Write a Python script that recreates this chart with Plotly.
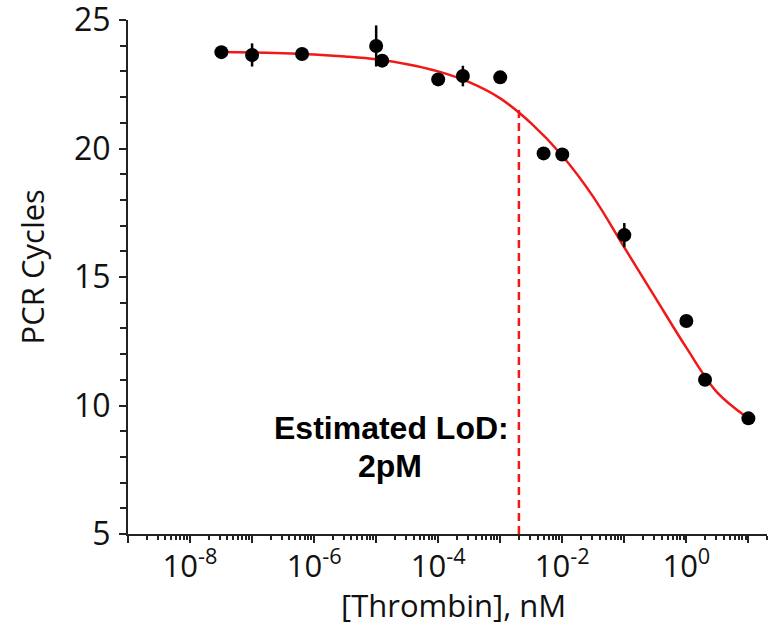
import plotly.graph_objects as go

# Thrombin concentration series (nM) and measured PCR cycles
conc_nM = [3.2e-8, 1e-7, 6.4e-7, 1e-5, 1.25e-5, 1e-4, 2.5e-4, 1e-3,
           5e-3, 1e-2, 1e-1, 1.0, 2.0, 10.0]
pcr_cycles = [23.75, 23.64, 23.68, 23.99, 23.42, 22.69, 22.82, 22.77,
              19.81, 19.77, 16.63, 13.29, 11.0, 9.5]
pcr_err = [0.0, 0.45, 0.0, 0.8, 0.0, 0.2, 0.4, 0.0,
           0.0, 0.0, 0.47, 0.15, 0.0, 0.0]

# Sigmoidal fit, sampled along the concentration range
fit_conc = [3.16e-8, 1e-7, 3.16e-7, 1e-6, 3.16e-6, 1e-5, 3.16e-5, 1e-4,
            3.16e-4, 1e-3, 3.16e-3, 1e-2, 3.16e-2, 1e-1, 3.16e-1, 1.0,
            3.16, 10.0]
fit_cycles = [23.76, 23.74, 23.71, 23.66, 23.58, 23.47, 23.28, 23.00,
              22.58, 21.95, 20.98, 19.72, 18.12, 16.15, 14.2, 12.25,
              10.5, 9.5]

# Limit of detection marker
lod_nM = 2e-3
lod_cycles = 21.5
lod_text = ["Estimated LoD:", "2pM"]

# Axis ticks
x_tick_vals = [10.0 ** e for e in range(-9, 2)]
x_tick_text = ["" if e % 2 else f"10<sup>{e}</sup>" for e in range(-9, 2)]
x_minor_vals = [m * 10.0 ** e for e in range(-9, 2) for m in range(2, 10)]
y_tick_vals = [5, 10, 15, 20, 25]
y_tick_text = [str(v) for v in y_tick_vals]

RED = "#f01818"
AXIS = "#222222"
FONT = "Open Sans"
TEXT = "#111111"

fig = go.Figure()

fig.add_trace(go.Scatter(
    x=fit_conc, y=fit_cycles, mode="lines",
    line=dict(color=RED, width=2.5, shape="spline", smoothing=1.0),
    hoverinfo="skip", showlegend=False,
))

fig.add_trace(go.Scatter(
    x=[lod_nM, lod_nM], y=[5, lod_cycles], mode="lines",
    line=dict(color=RED, width=2.5, dash="8px,5px"),
    hoverinfo="skip", showlegend=False,
))

fig.add_trace(go.Scatter(
    x=conc_nM, y=pcr_cycles, mode="markers",
    marker=dict(color="black", size=14),
    error_y=dict(type="data", array=pcr_err, visible=True,
                 thickness=2.5, width=0, color="black"),
    cliponaxis=False, showlegend=False,
))

fig.update_xaxes(
    type="log", range=[-9, 1.3], automargin=False,
    showline=True, linewidth=2, linecolor=AXIS,
    ticks="outside", ticklen=7, tickwidth=2, tickcolor=AXIS,
    tickmode="array", tickvals=x_tick_vals, ticktext=x_tick_text,
    ticklabelstandoff=-3, ticklabeloverflow="allow",
    minor=dict(tickmode="array", tickvals=x_minor_vals, ticks="outside",
               ticklen=4, tickwidth=1.5, tickcolor=AXIS, showgrid=False),
    showgrid=False, zeroline=False,
    tickfont=dict(family=FONT, size=31, color=TEXT),
)

fig.update_yaxes(
    range=[5, 25.001], automargin=False,
    showline=True, linewidth=2, linecolor=AXIS,
    ticks="outside", ticklen=7, tickwidth=2, tickcolor=AXIS,
    tickmode="array", tickvals=y_tick_vals, ticktext=y_tick_text,
    ticklabelstandoff=2, ticklabeloverflow="allow",
    minor=dict(dtick=1, ticks="outside", ticklen=6, tickwidth=2,
               tickcolor=AXIS, showgrid=False),
    showgrid=False, zeroline=False,
    tickfont=dict(family=FONT, size=32, color=TEXT),
)

annotations = [
    dict(text="[Thrombin], nM", xref="paper", yref="paper",
         x=0.51, y=-0.138, xanchor="center", yanchor="middle",
         showarrow=False, font=dict(family=FONT, size=31, color=TEXT)),
    dict(text="PCR Cycles", xref="paper", yref="paper",
         x=-0.150, y=0.519, xanchor="center", yanchor="middle",
         textangle=-90, showarrow=False,
         font=dict(family=FONT, size=31, color=TEXT)),
    dict(text=f"<b>{lod_text[0]}</b>", xref="paper", yref="paper",
         x=0.4116, y=0.206, xanchor="center", yanchor="middle",
         showarrow=False,
         font=dict(family="Liberation Sans", size=32, color="black")),
    dict(text=f"<b>{lod_text[1]}</b>", xref="paper", yref="paper",
         x=0.4100, y=0.132, xanchor="center", yanchor="middle",
         showarrow=False,
         font=dict(family="Liberation Sans", size=32, color="black")),
]

fig.update_layout(
    width=771, height=626,
    margin=dict(l=128, r=4, t=20, b=92, autoexpand=False),
    plot_bgcolor="white", paper_bgcolor="white",
    annotations=annotations,
    showlegend=False,
)

fig.write_html("out.html")
